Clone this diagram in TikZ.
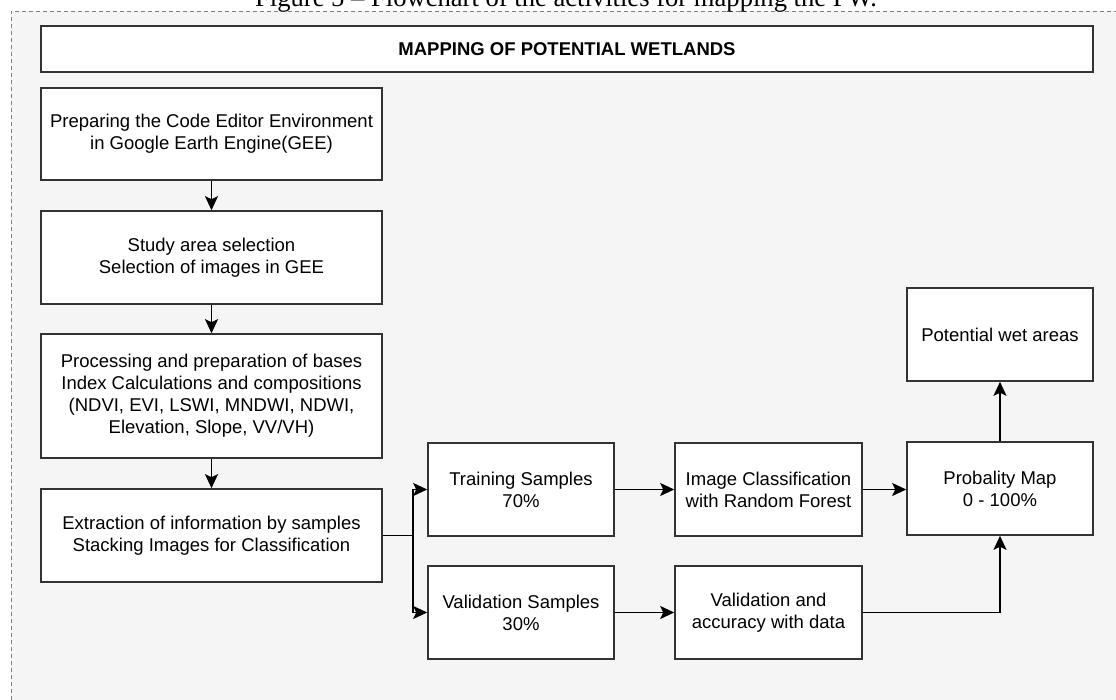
\documentclass[tikz,border=0pt]{standalone}
\usepackage{fontspec}
\setmainfont{Liberation Sans}
\newfontfamily\captionfont{Liberation Serif}
\usetikzlibrary{arrows.meta,positioning}

\definecolor{boxline}{HTML}{333333}
\definecolor{pagebg}{HTML}{F5F5F5}

\begin{document}
\begin{tikzpicture}[x=1pt,y=-1pt,
    stepbox/.style={draw=boxline, line width=1.6pt, fill=white, align=center,
        inner sep=0pt, font=\fontsize{18.5}{22}\selectfont},
    arr/.style={line width=1.6pt, -{Stealth[length=14pt,width=13pt,inset=3pt]}}]
    \useasboundingbox (0,0) rectangle (1116,700);
    % Fonas ir remelis
    \fill[pagebg] (11,11) rectangle (1116,700);
    \draw[gray, line width=0.9pt, dash pattern=on 4pt off 3pt] (11,700) -- (11,11) -- (1116,11);
    \node[anchor=base, font=\captionfont\fontsize{26.6}{30}\selectfont] (caption) at (566,6.5)
        {Figure 5 – Flowchart of the activities for mapping the PW.};

    % Antraste
    \node[stepbox, minimum width=1052pt, minimum height=46pt, font=\bfseries\fontsize{18.5}{22}\selectfont]
        (head) at (567,49) {MAPPING OF POTENTIAL WETLANDS};

    % Kairysis stulpelis
    \node[stepbox, minimum width=341pt, minimum height=92pt] (prep) at (211.5,134)
        {Preparing the Code Editor Environment\\in Google Earth Engine(GEE)};
    \node[stepbox, minimum width=341pt, minimum height=93pt] (study) at (211.5,257.5)
        {Study area selection\\Selection of images in GEE};
    \node[stepbox, minimum width=341pt, minimum height=124pt] (proc) at (211.5,396)
        {Processing and preparation of bases\\Index Calculations and compositions\\(NDVI, EVI, LSWI, MNDWI, NDWI,\\Elevation, Slope, VV/VH)};
    \node[stepbox, minimum width=341pt, minimum height=93pt] (extr) at (211.5,535.5)
        {Extraction of information by samples\\Stacking Images for Classification};

    % Imtys ir klasifikavimas
    \node[stepbox, minimum width=186pt, minimum height=93pt] (train) at (521,489.5)
        {Training Samples\\70\%};
    \node[stepbox, minimum width=186pt, minimum height=93pt] (valid) at (521,612.5)
        {Validation Samples\\30\%};
    \node[stepbox, minimum width=187pt, minimum height=93pt] (classif) at (768.5,489.5)
        {Image Classification\\with Random Forest};
    \node[stepbox, minimum width=187pt, minimum height=93pt] (accur) at (768.5,612.5)
        {Validation and\\accuracy with data};
    \node[stepbox, minimum width=186pt, minimum height=93pt] (prob) at (1000,488.5)
        {Probality Map\\0 - 100\%};
    \node[stepbox, minimum width=186pt, minimum height=93pt] (wet) at (1000,334.5)
        {Potential wet areas};

    % Rodykles
    \draw[arr] (prep) -- (study);
    \draw[arr] (study) -- (proc);
    \draw[arr] (proc) -- (extr);
    \coordinate (split) at (413,535.5);
    \draw[arr] (extr.east) -- (split) |- (train.west);
    \draw[arr] (split) |- (valid.west);
    \draw[arr] (train) -- (classif);
    \draw[arr] (valid) -- (accur);
    \draw[arr] (classif) -- (classif -| prob.west);
    \draw[arr] (accur.east) -| (prob.south);
    \draw[arr] (prob) -- (wet);
\end{tikzpicture}
\end{document}
